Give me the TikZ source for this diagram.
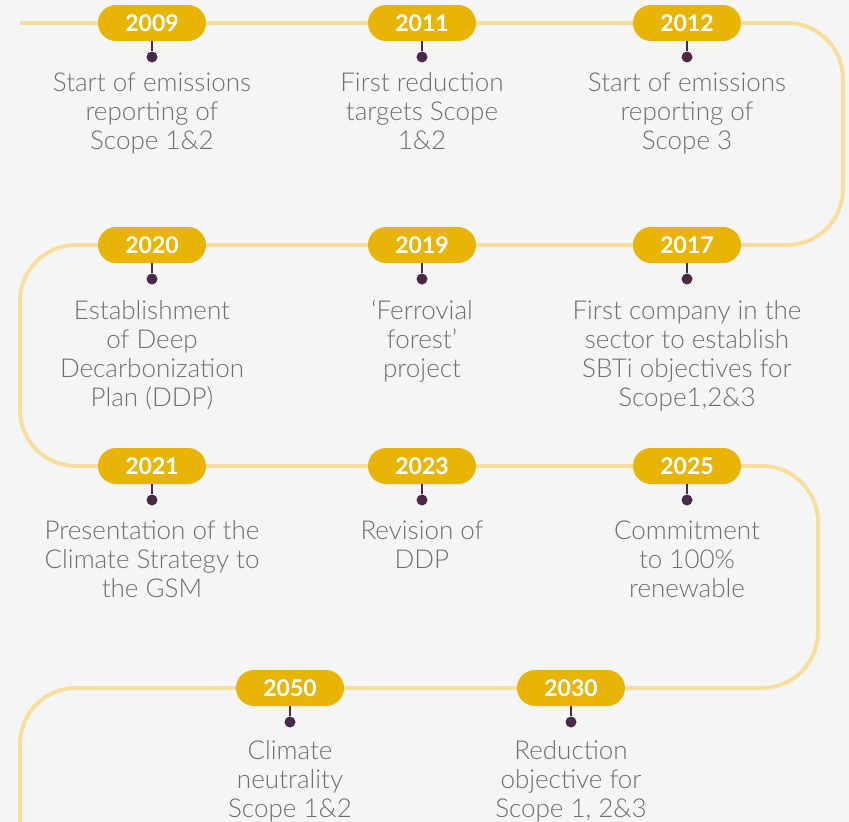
\documentclass[tikz,border=0pt]{standalone}
\usepackage{fontspec}
\setmainfont{Lato}[UprightFont=* Light, BoldFont=* Bold]
\usetikzlibrary{positioning}
\definecolor{pillyellow}{HTML}{E8B406}
\definecolor{trackyellow}{HTML}{F7DE9E}
\definecolor{dotpurple}{HTML}{4A2A48}
\definecolor{eventgray}{HTML}{6D6E71}
\definecolor{paper}{HTML}{F5F5F5}
\begin{document}
\begin{tikzpicture}[x=1pt, y=1pt,
    year/.style={rectangle, rounded corners=18pt, fill=pillyellow, text=white,
      minimum width=108pt, minimum height=36pt, inner sep=0pt,
      font=\fontsize{23}{26}\selectfont\bfseries},
    dot/.style={circle, fill=dotpurple, minimum size=11pt, inner sep=0pt},
    stub/.style={draw=dotpurple, line width=1.2pt},
    track/.style={draw=trackyellow, line width=4pt, rounded corners=56pt},
    event/.style={text=eventgray, align=center, anchor=base, inner sep=0pt,
      font=\fontsize{26}{29.3}\selectfont}]
            \fill[paper] (0,0) rectangle (849,-822);
            \useasboundingbox (0,0) rectangle (849,-822);
            
            \draw[track] (20,-23) -- (843,-23) -- (843,-245) -- (20,-245)
              -- (20,-466) -- (818,-466) -- (818,-688) -- (20,-688) -- (20,-830);
            
            \node[year] (y09) at (152,-23) {2009};
            \node[year] (y11) [node distance=270pt, right of=y09] {2011};
            \node[year] (y12) [node distance=265pt, right of=y11] {2012};
            
            \node[year] (y17) [node distance=222pt, below of=y12] {2017};
            \node[year] (y19) [node distance=265pt, left of=y17] {2019};
            \node[year] (y20) [node distance=270pt, left of=y19] {2020};
            
            \node[year] (y21) [node distance=221pt, below of=y20] {2021};
            \node[year] (y23) [node distance=270pt, right of=y21] {2023};
            \node[year] (y25) [node distance=265pt, right of=y23] {2025};
            
            \node[year] (y50) at (290,-688) {2050};
            \node[year] (y30) [node distance=281pt, right of=y50] {2030};
            
            \foreach \yr in {09,11,12,17,19,20,21,23,25,50,30} {
              \node[dot] (d\yr) [node distance=34pt, below of=y\yr] {};
              \draw[stub] (y\yr.south) -- (d\yr);
            }
            
            % anchor=base sits on the last line
            \node[event] (t09) at (152,-149.6) {Start of emissions\\reporting of\\Scope 1\&2};
            \node[event] (t11) at (422,-149.6) {First reduction\\targets Scope\\1\&2};
            \node[event] (t12) at (687,-149.6) {Start of emissions\\reporting of\\Scope 3};
            
            \node[event] (t20) at (152,-406.9) {Establishment\\of Deep\\Decarbonization\\Plan (DDP)};
            \node[event] (t19) at (422,-377.6) {‘Ferrovial\\forest’\\project};
            \node[event] (t17) at (687,-406.9) {First company in the\\sector to establish\\SBTi objectives for\\Scope1,2\&3};
            
            \node[event] (t21) at (152,-597.6) {Presentation of the\\Climate Strategy to\\the GSM};
            \node[event] (t23) at (422,-568.3) {Revision of\\DDP};
            \node[event] (t25) at (687,-597.6) {Commitment\\to 100\%\\renewable};
            
            \node[event] (t50) at (290,-817.6) {Climate\\neutrality\\Scope 1\&2};
            \node[event] (t30) at (571,-817.6) {Reduction\\objective for\\Scope 1, 2\&3};
        \end{tikzpicture}
\end{document}
